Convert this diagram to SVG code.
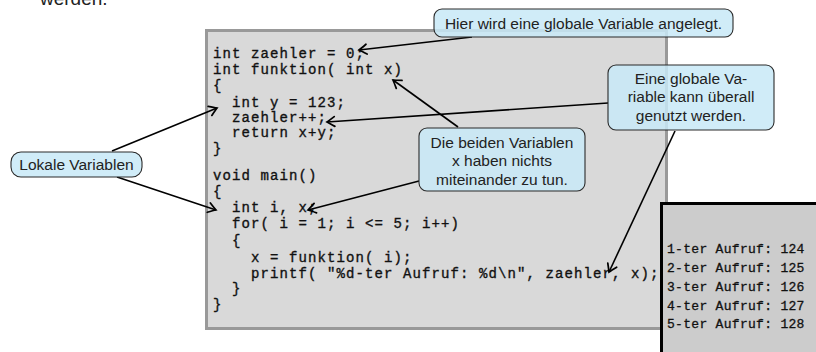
<svg xmlns="http://www.w3.org/2000/svg" width="816" height="352" viewBox="0 0 816 352">
  <defs>
    <style>
      .code { font-family: "Liberation Mono", "DejaVu Sans Mono", monospace; font-size: 14px; letter-spacing: 1.1px; fill: #111; stroke: #111; stroke-width: 0.35px; }
      .out { font-family: "Liberation Mono", "DejaVu Sans Mono", monospace; font-size: 13px; letter-spacing: 0.3px; fill: #111; stroke: #111; stroke-width: 0.3px; }
      .bubble rect { fill: rgb(200,233,247); fill-opacity: 0.85; stroke: #2a2a2a; stroke-width: 1.1; }
      .bubble text { font-family: "Liberation Sans", Arial, sans-serif; font-size: 15.5px; fill: #222; text-anchor: middle; }
      .conn line { stroke: #000; stroke-width: 1.6; marker-end: url(#arrow); }
    </style>
    <marker id="arrow" markerUnits="userSpaceOnUse" markerWidth="14" markerHeight="14" viewBox="-8 -6 10 12" refX="0" refY="0" orient="auto" overflow="visible">
      <path d="M -6.5 -4.2 Q -2 -1.2 0 0 Q -2 1.2 -6.5 4.2" fill="none" stroke="#000" stroke-width="1.5" stroke-linecap="round"/>
    </marker>
  </defs>

  <!-- tail of the preceding paragraph -->
  <text x="40" y="5" font-family="Liberation Sans, Arial, sans-serif" font-size="19" fill="#222">werden.</text>

  <!-- source listing -->
  <g id="code">
    <rect x="206.5" y="30.5" width="460" height="298" fill="#d9d9d9" stroke="#999" stroke-width="3"/>
    <text class="code" x="213" y="58">int zaehler = 0;</text>
    <text class="code" x="213" y="74">int funktion( int x)</text>
    <text class="code" x="213" y="90">{</text>
    <text class="code" x="232" y="107">int y = 123;</text>
    <text class="code" x="232" y="122">zaehler++;</text>
    <text class="code" x="232" y="137">return x+y;</text>
    <text class="code" x="213" y="153">}</text>
    <text class="code" x="213" y="180">void main()</text>
    <text class="code" x="213" y="196">{</text>
    <text class="code" x="232" y="212">int i, x;</text>
    <text class="code" x="232" y="228">for( i = 1; i &lt;= 5; i++)</text>
    <text class="code" x="232" y="245">{</text>
    <text class="code" x="251" y="262">x = funktion( i);</text>
    <text class="code" x="251" y="278">printf( "%d-ter Aufruf: %d\n", zaehler, x);</text>
    <text class="code" x="232" y="293">}</text>
    <text class="code" x="213" y="309">}</text>
  </g>

  <!-- program output -->
  <g id="output">
    <rect x="661.5" y="203.5" width="200" height="200" fill="#cccccc" stroke="#000" stroke-width="3"/>
    <text class="out" x="667" y="253">1-ter Aufruf: 124</text>
    <text class="out" x="667" y="272">2-ter Aufruf: 125</text>
    <text class="out" x="667" y="291">3-ter Aufruf: 126</text>
    <text class="out" x="667" y="309.5">4-ter Aufruf: 127</text>
    <text class="out" x="667" y="328">5-ter Aufruf: 128</text>
  </g>

  <!-- connectors -->
  <g id="connectors" class="conn">
    <line x1="472" y1="37" x2="359" y2="50"/>
    <line x1="458" y1="127" x2="393" y2="80"/>
    <line x1="608" y1="103" x2="327" y2="122"/>
    <line x1="675" y1="131" x2="609" y2="272"/>
    <line x1="112" y1="151" x2="217" y2="108"/>
    <line x1="117" y1="177" x2="216" y2="210"/>
    <line x1="419" y1="181" x2="308" y2="210"/>
  </g>

  <!-- callouts -->
  <g id="note-global" class="bubble">
    <rect x="434" y="9" width="299" height="28" rx="8"/>
    <text x="583.5" y="28.5">Hier wird eine globale Variable angelegt.</text>
  </g>
  <g id="note-everywhere" class="bubble">
    <rect x="608" y="65" width="166" height="65" rx="8"/>
    <text x="691" y="84">Eine globale Va-</text>
    <text x="691" y="102">riable kann überall</text>
    <text x="691" y="120.5">genutzt werden.</text>
  </g>
  <g id="note-unrelated" class="bubble">
    <rect x="419" y="128" width="166" height="63" rx="8"/>
    <text x="502" y="147.5">Die beiden Variablen</text>
    <text x="502" y="166">x haben nichts</text>
    <text x="502" y="184.5">miteinander zu tun.</text>
  </g>
  <g id="note-local" class="bubble">
    <rect x="11" y="152" width="131" height="25" rx="10"/>
    <text x="76.5" y="170">Lokale Variablen</text>
  </g>
</svg>
